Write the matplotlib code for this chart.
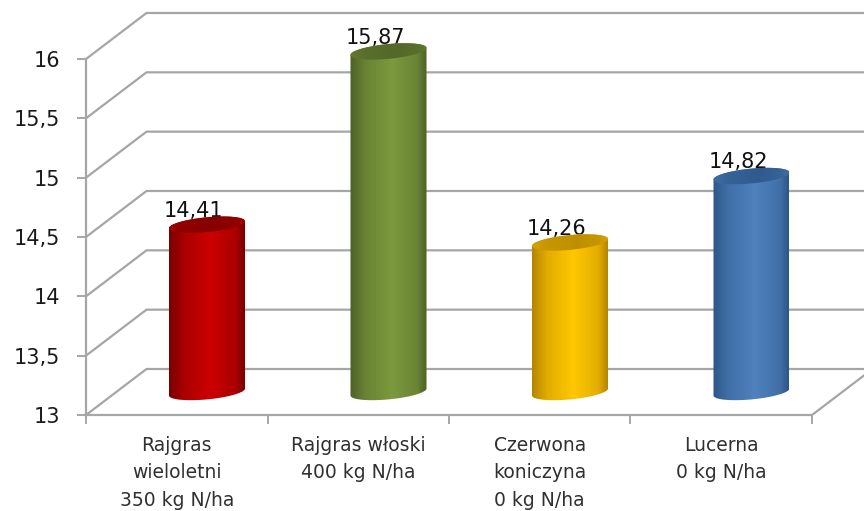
import numpy as np
import matplotlib
matplotlib.use("Agg")
import matplotlib.pyplot as plt
from matplotlib.colors import LinearSegmentedColormap, to_rgb
from matplotlib.patches import Polygon

categories = ["Rajgras\nwieloletni\n350 kg N/ha", "Rajgras włoski\n400 kg N/ha",
              "Czerwona\nkoniczyna\n0 kg N/ha", "Lucerna\n0 kg N/ha"]
values = [14.41, 15.87, 14.26, 14.82]
value_labels = ["14,41", "15,87", "14,26", "14,82"]
y_ticks = [13, 13.5, 14, 14.5, 15, 15.5, 16]
y_tick_labels = ["13", "13,5", "14", "14,5", "15", "15,5", "16"]
body_edge = ["#7a0000", "#4e6127", "#b58500", "#2c5688"]
body_mid = ["#cc0000", "#7c9a3e", "#ffc800", "#4f81bd"]
cap_edge = ["#a00000", "#63792f", "#d6a200", "#3f6ea6"]
cap_mid = ["#860000", "#536829", "#bd8f00", "#2f5a8e"]

plt.rcParams["font.family"] = ["DejaVu Sans"]
W, H = 864, 511
fig = plt.figure(figsize=(W / 100, H / 100), dpi=100)
ax = fig.add_axes([86 / W, (H - 415) / H, (W - 86) / W, 415 / H])
px_x, px_y = 181.5, 118.67
ax.set_xlim(0, (W - 86) / px_x)
ax.set_ylim(13, 13 + 415 / px_y)
GRID = "#a6a6a6"
dx, dy = 60.5 / px_x, 46 / px_y

# walls
for v in y_ticks:
    ax.plot([0, dx, 5], [v, v + dy, v + dy], color=GRID, lw=1.6, zorder=1, solid_joinstyle="miter")
ax.plot([4, 4 + dx], [13, 13 + dy], color=GRID, lw=1.6, zorder=1)

for s in ("top", "right"):
    ax.spines[s].set_visible(False)
for s in ("left", "bottom"):
    ax.spines[s].set_color(GRID)
    ax.spines[s].set_linewidth(1.6)
ax.spines["left"].set_bounds(13, 16)
ax.spines["bottom"].set_bounds(0, 4)
ax.spines["bottom"].set_zorder(1.5)

ax.set_yticks(y_ticks, y_tick_labels)
ax.set_xticks(np.arange(5), [""] * 5)
ax.set_xticks(np.arange(len(categories)) + 0.5, categories, minor=True)
ax.tick_params(axis="y", length=6.5, width=1.4, color=GRID, labelsize=15, labelcolor="#1a1a1a", pad=12)
ax.tick_params(axis="x", which="major", length=6.5, width=1.4, color=GRID)
ax.tick_params(axis="x", which="minor", length=0, labelsize=13.5, labelcolor="#303030", pad=15)
for t in ax.get_xticklabels(minor=True):
    t.set_linespacing(1.56)
    t.set_va("top")

a, b, k = 38 / px_x, 7.4 / px_y, 3.5 / px_y

def shade(poly_xy, x0, x1, y0, y1, c_edge, c_mid, z, mid_at=0.55):
    e, m = np.array(to_rgb(c_edge)), np.array(to_rgb(c_mid))
    shoulder = tuple(0.6 * m + 0.4 * e)
    cm = LinearSegmentedColormap.from_list(
        "c", [(0, c_edge), (0.2, shoulder), (mid_at, c_mid), (0.88, shoulder), (1, c_edge)])
    im = ax.imshow(np.linspace(0, 1, 128).reshape(1, -1), extent=(x0, x1, y0, y1), cmap=cm,
                   aspect="auto", interpolation="bilinear", zorder=z)
    im.set_clip_path(Polygon(poly_xy, closed=True, transform=ax.transData))

t_low = np.linspace(np.pi, 2 * np.pi, 60)
t_up = np.linspace(0, np.pi, 60)
t_all = np.linspace(0, 2 * np.pi, 120)

for i, val in enumerate(values):
    cx = i + 0.5 + dx / 2
    base = 13 + dy / 2
    top = val + dy / 2
    low = np.c_[cx + a * np.cos(t_low), base + b * np.sin(t_low) + k * np.cos(t_low)]
    up = np.c_[cx + a * np.cos(t_up), top + b * np.sin(t_up) + k * np.cos(t_up)]
    body = np.r_[low, up]
    shade(body, cx - a, cx + a, base - 3 * b, top + 3 * b, body_edge[i], body_mid[i], 3)
    cap = np.c_[cx + a * np.cos(t_all), top + b * np.sin(t_all) + k * np.cos(t_all)]
    shade(cap, cx - a, cx + a, top - 3 * b, top + 3 * b, cap_edge[i], cap_mid[i], 4, 0.6)
    ax.annotate(value_labels[i], xy=(cx, top), xytext=(-9.4, 5.6), textcoords="offset points",
                ha="center", va="baseline", fontsize=15, color="#111111", zorder=2.5)

ax.set_xlim(0, (W - 86) / px_x)
ax.set_ylim(13, 13 + 415 / px_y)
fig.savefig("out.png", dpi=100)
